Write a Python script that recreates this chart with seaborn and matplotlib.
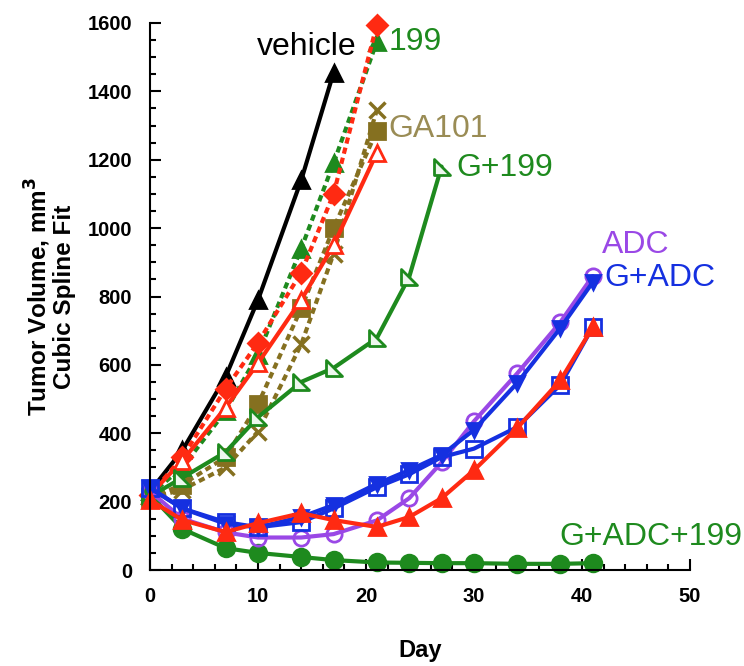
import numpy as np
import pandas as pd
import matplotlib
matplotlib.use("Agg")
import matplotlib.pyplot as plt
import seaborn as sns
from matplotlib.path import Path

# ---------------- data ----------------
days_short = [0, 3, 7, 10, 14, 17, 21]
days_long = [0, 3, 7, 10, 14, 17, 21, 24, 27, 30, 34, 38, 41]

vehicle = [230, 350, 565, 790, 1140, 1455]
vehicle_days = [0, 3, 7, 10, 14, 17]
s199 = [220, 300, 465, 630, 940, 1190, 1545]
red_diamond = [220, 330, 530, 665, 870, 1100, 1595]
ga101 = [210, 250, 330, 485, 765, 1000, 1285]
olive_x = [210, 235, 300, 405, 660, 925, 1345]
red_open_tri = [220, 320, 475, 605, 790, 950, 1220]
g199_days = [0, 3, 7, 10, 14, 17, 21, 24, 27]
g199 = [215, 270, 345, 447, 550, 591, 678, 857, 1180]
adc = [230, 150, 110, 95, 95, 105, 145, 210, 315, 435, 575, 725, 860]
g_adc = [240, 180, 135, 125, 155, 190, 252, 292, 336, 410, 547, 708, 842]
g_adc_sq = [240, 180, 140, 125, 140, 180, 242, 280, 330, 355, 418, 542, 711]
red_fill_tri = [205, 146, 111, 137, 166, 146, 126, 155, 210, 292, 415, 555, 710]
g_adc_199 = [220, 120, 64, 50, 38, 29, 22, 21, 20, 20, 18, 18, 20]

labels = ["vehicle", "199", "GA101", "G+199", "ADC", "G+ADC", "G+ADC+199"]

# ---------------- style ----------------
GREEN = "#1e8a1e"
RED = "#ff2a12"
OLIVE = "#857020"
OLIVE_TXT = "#9a8c55"
PURPLE = "#9a48e6"
BLUE = "#1530e0"
BLACK = "#000000"

sns.set_theme(style="ticks")
plt.rcParams["font.family"] = ["Liberation Sans", "DejaVu Sans"]
plt.rcParams["text.color"] = "black"
plt.rcParams["axes.labelcolor"] = "black"
plt.rcParams["xtick.color"] = "black"
plt.rcParams["ytick.color"] = "black"

fig = plt.figure(figsize=(7.44, 6.66), dpi=100)
ax = fig.add_axes([150 / 744, 96 / 666, 540 / 744, 547 / 666])

corner_tri = Path([(-1, 1), (-1, -1), (1, -1), (-1, 1)],
                  [Path.MOVETO, Path.LINETO, Path.LINETO, Path.CLOSEPOLY])

def draw(x, y, color, marker, ls="-", mfc=None, ms=10, mew=2, z=2):
    df = pd.DataFrame({"x": x, "y": y})
    sns.lineplot(data=df, x="x", y="y", ax=ax, sort=False, errorbar=None,
                 color=color, linestyle=ls, linewidth=3, marker=marker,
                 markersize=ms, markerfacecolor=mfc if mfc else color,
                 markeredgecolor=color, markeredgewidth=mew, zorder=z,
                 clip_on=False)

dash = (0, (1.5, 1.0))
draw(vehicle_days, vehicle, BLACK, "^", ms=11)
draw(days_short, ga101, OLIVE, "s", ls=dash, ms=11)
draw(days_short, olive_x, OLIVE, "x", ls=dash, ms=11, mew=2.5)
draw(days_short, s199, GREEN, "^", ls=dash, ms=11)
draw(days_short, red_diamond, RED, "D", ls=dash, ms=10)
draw(days_short, red_open_tri, RED, "^", mfc="white", ms=12)
draw(g199_days, g199, GREEN, corner_tri, mfc="#eef7ee", ms=11, mew=2)
draw(days_long, g_adc_199, GREEN, "o", ms=12)
draw(days_long, adc, PURPLE, "o", mfc="none", ms=11)
draw(days_long, g_adc_sq, BLUE, "s", mfc="none", ms=11)
draw(days_long, g_adc, BLUE, "v", ms=10)
draw(days_long, red_fill_tri, RED, "^", ms=12)

# ---------------- axes ----------------
ax.set_xlim(0, 50)
ax.set_ylim(0, 1600)
ax.set_xticks(np.arange(0, 51, 10))
ax.set_xticks(np.arange(0, 51, 2), minor=True)
ax.set_yticks(np.arange(0, 1601, 200))
ax.set_yticks(np.arange(0, 1601, 50), minor=True)
ax.tick_params(axis="both", which="major", direction="in", length=8, width=1.5,
               labelsize=14.5, colors="black")
ax.tick_params(axis="y", which="major", pad=13)
ax.tick_params(axis="x", which="major", pad=12)
ax.tick_params(axis="both", which="minor", direction="in", length=4, width=1.5,
               colors="black")
for lab in ax.get_xticklabels() + ax.get_yticklabels():
    lab.set_fontweight("bold")
for s in ["top", "right"]:
    ax.spines[s].set_visible(False)
for s in ["left", "bottom"]:
    ax.spines[s].set_linewidth(1.5)
    ax.spines[s].set_color("black")

ax.set_xlabel("Day", fontsize=17, fontweight="bold", labelpad=24, color="black")
ax.set_ylabel("Tumor Volume, mm$^\\mathbf{3}$\nCubic Spline Fit", fontsize=17.5,
              fontweight="bold", labelpad=8, linespacing=1.0, color="black")

# ---------------- series labels ----------------
fs = 23
ax.text(19.1, 1530, labels[0], color=BLACK, fontsize=fs, ha="right", va="center")
ax.text(22.1, 1545, labels[1], color=GREEN, fontsize=fs, ha="left", va="center")
ax.text(22.1, 1290, labels[2], color=OLIVE_TXT, fontsize=fs, ha="left", va="center")
ax.text(28.4, 1175, labels[3], color=GREEN, fontsize=fs, ha="left", va="center")
ax.text(41.8, 950, labels[4], color=PURPLE, fontsize=fs, ha="left", va="center")
ax.text(42.1, 855, labels[5], color=BLUE, fontsize=fs, ha="left", va="center")
ax.text(37.9, 96, labels[6], color=GREEN, fontsize=fs, ha="left", va="center")

fig.savefig("out.png", dpi=100)
